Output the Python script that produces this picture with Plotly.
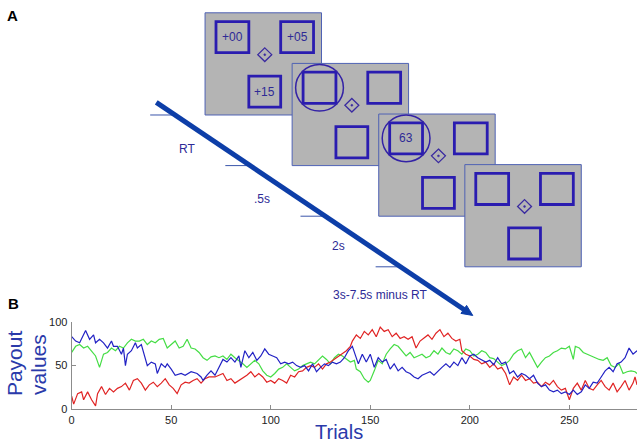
import plotly.graph_objects as go

# ---------------- Panel B data ----------------
blue_x = [0,2,4,7,9,11,12,14,16,18,20,21,23,25,26,27,28,30,32,33,35,37,38,40,42,43,45,47,48,50,52,55,57,60,63,65,66,68,70,
          72,74,76,78,80,82,84,85,87,89,91,93,95,97,99,101,103,105,107,109,111,113,115,117,119,121,123,125,127,129,131,133,135,137,139,141,
          143,144,146,148,150,152,154,156,158,160,162,164,166,168,170,172,174,176,178,180,182,184,186,188,190,192,194,196,198,200,202,204,206,208,210,212,
          214,216,218,220,222,224,226,228,230,232,234,236,238,240,242,244,246,248,250,252,254,256,258,260,262,264,266,268,270,272,274,276,278,280,282,284]
blue_y = [83,78,76,90,80,85,76,80,76,70,78,72,72,63,70,50,63,67,76,70,74,59,50,54,52,41,52,48,52,46,39,41,39,43,41,37,33,39,44,
          39,48,57,54,59,54,61,48,67,59,65,56,61,69,63,61,59,52,54,52,54,50,48,50,44,52,43,48,52,50,54,52,54,59,67,72,
          59,52,63,54,63,48,59,54,57,46,52,44,48,43,41,37,35,39,41,43,39,44,48,52,48,54,50,59,52,61,63,59,56,54,56,51,
          59,52,54,41,44,37,41,39,35,39,30,26,28,22,20,22,18,20,17,22,17,20,28,24,31,30,37,44,48,43,52,54,59,70,63,67]

green_x = [0,2,4,6,8,10,12,14,16,18,20,22,24,26,28,30,32,34,36,38,40,42,44,46,48,50,52,54,56,58,60,62,64,66,68,70,
           72,74,76,78,80,82,84,86,88,90,92,94,96,98,100,102,104,106,108,110,112,114,116,118,120,122,124,126,128,130,132,134,136,138,140,142,
           143,145,147,149,150,152,154,156,158,160,162,164,166,168,170,172,174,176,178,180,182,184,186,188,190,192,194,196,198,200,202,204,206,208,210,212,
           214,216,218,220,222,224,226,228,230,232,234,236,238,240,242,244,246,248,250,252,253,255,257,259,261,263,265,267,269,271,273,275,277,279,281,283,284]
green_y = [65,72,74,70,72,67,61,48,63,65,70,67,72,70,76,80,78,78,80,74,78,76,80,81,70,74,78,70,72,80,70,69,65,59,56,60,
           61,59,61,57,63,59,56,52,48,52,56,52,44,39,37,41,46,48,52,48,44,46,50,52,54,52,57,61,57,52,59,63,61,57,54,56,
           46,43,35,31,33,44,56,52,63,69,74,72,67,61,65,59,61,63,59,61,67,63,70,65,63,69,67,63,69,67,61,63,67,65,59,58,
           54,50,52,56,63,67,69,59,65,57,48,54,59,61,65,67,70,69,72,57,72,70,65,63,61,59,57,56,59,50,48,52,41,43,44,43,41]

red_x = [0,1,3,5,6,8,10,12,13,15,17,19,21,23,25,27,29,31,33,35,37,39,41,43,45,47,49,51,53,55,57,59,61,63,65,67,69,71,
         72,74,76,78,80,82,84,86,88,90,92,94,96,98,100,102,104,106,108,110,112,114,116,118,120,122,124,126,128,130,132,134,136,138,140,
         141,143,145,147,149,151,153,155,157,159,161,163,165,167,169,171,173,175,177,179,181,183,185,187,189,191,193,195,196,198,200,202,204,206,208,210,212,
         214,216,218,220,222,224,226,228,230,232,234,236,238,240,242,244,246,248,250,252,254,256,258,260,262,264,266,268,270,272,274,276,278,280,282,283,284]
red_y = [15,6,18,20,11,20,11,4,18,26,17,24,20,24,26,30,22,33,35,30,22,28,31,26,30,35,28,24,18,28,31,30,33,35,30,35,37,37,
         37,39,41,33,35,30,33,35,39,43,37,41,37,31,33,30,35,33,30,39,37,43,44,48,50,48,52,46,52,54,57,61,63,67,72,
         78,85,81,89,85,91,83,94,89,91,83,87,81,83,80,83,70,78,81,85,80,87,91,83,87,81,78,80,67,63,61,57,56,52,54,48,52,
         46,48,41,28,37,33,39,33,35,30,31,26,31,28,33,26,22,24,11,24,30,22,33,24,22,28,33,26,22,30,20,26,33,22,30,37,28]

x_ticks = [0, 50, 100, 150, 200, 250]
y_ticks = [0, 50, 100]

# ---------------- Panel A schematic layout (pixel space) ----------------
screen_origins = [(203, 7), (290.5, 59), (377.5, 111), (464, 163)]
screen_w, screen_h = 117, 105
square_boxes = [(11, 9, 44, 41), (76, 9, 109, 41), (44, 65, 76, 97)]
diamond_c, diamond_r = (60, 43), 7
circle_r = 24
screen1_labels = ["+00", "+05", "+15"]
screen3_label = "63"
timeline_start, timeline_end = (154, 99), (472, 318)
tick_ys = [112, 164, 216, 268]
tick_len = 25
time_labels = ["RT", ".5s", "2s", "3s-7.5s minus RT"]
time_label_pos = [(185, 147), (260, 198), (337, 247), (379, 297)]

FONT = "Liberation Sans, Arial, sans-serif"
SQ_COL = "#2a1cb0"
TXT_COL = "#2e2a96"
ARROW_COL = "#0d3ea8"

fig = go.Figure()
for xs, ys, col in [(green_x, green_y, "#45dd45"), (red_x, red_y, "#e02424"), (blue_x, blue_y, "#2222c4")]:
    fig.add_trace(go.Scatter(x=xs, y=ys, mode="lines", line=dict(color=col, width=1.2),
                             showlegend=False, hoverinfo="skip", xaxis="x", yaxis="y"))
fig.add_trace(go.Scatter(x=[0], y=[0], mode="markers", marker=dict(opacity=0),
                         showlegend=False, hoverinfo="skip", xaxis="x2", yaxis="y2"))

shapes = []
annots = []
P = dict(xref="x2", yref="y2")

for i, (ox, oy) in enumerate(screen_origins):
    shapes.append(dict(type="rect", x0=ox, y0=oy, x1=ox + screen_w, y1=oy + screen_h,
                       fillcolor="#b4b4b4", line=dict(color="#4f62b4", width=1), layer="above", **P))
    for (a, b, c, d) in square_boxes:
        shapes.append(dict(type="rect", x0=ox + a, y0=oy + b, x1=ox + c, y1=oy + d,
                           line=dict(color=SQ_COL, width=2.8), layer="above", **P))
    cx, cy = ox + diamond_c[0], oy + diamond_c[1]
    r = diamond_r
    shapes.append(dict(type="path",
                       path=f"M {cx},{cy-r} L {cx+r},{cy} L {cx},{cy+r} L {cx-r},{cy} Z",
                       line=dict(color="#3a2aa0", width=1.3), layer="above", **P))
    shapes.append(dict(type="circle", x0=cx - 1, y0=cy - 1, x1=cx + 1, y1=cy + 1,
                       fillcolor="#3a2aa0", line=dict(color="#3a2aa0", width=0.5), layer="above", **P))
    a, b, c, d = square_boxes[0]
    sx, sy = ox + (a + c) / 2, oy + (b + d) / 2
    if i in (1, 2):
        shapes.append(dict(type="circle", x0=sx - circle_r, y0=sy - circle_r, x1=sx + circle_r, y1=sy + circle_r,
                           line=dict(color="#3322a6", width=1.5), layer="above", **P))
    if i == 0:
        for (a, b, c, d), lab in zip(square_boxes, screen1_labels):
            annots.append(dict(x=ox + (a + c) / 2, y=oy + (b + d) / 2, text=lab, showarrow=False,
                               font=dict(family=FONT, size=12, color=TXT_COL), **P))
    if i == 2:
        annots.append(dict(x=sx, y=sy, text=screen3_label, showarrow=False,
                           font=dict(family=FONT, size=12, color=TXT_COL), **P))

# timeline
(x0, y0), (x1, y1) = timeline_start, timeline_end
dx, dy = x1 - x0, y1 - y0
L = (dx ** 2 + dy ** 2) ** 0.5
ux, uy = dx / L, dy / L
hl, hw = 11, 5
bx, by = x1 - hl * ux, y1 - hl * uy
shapes.append(dict(type="line", x0=x0, y0=y0, x1=bx + 2 * ux, y1=by + 2 * uy,
                   line=dict(color=ARROW_COL, width=5), layer="above", **P))
shapes.append(dict(type="path",
                   path=f"M {x1},{y1} L {bx - hw*uy},{by + hw*ux} L {bx + hw*uy},{by - hw*ux} Z",
                   fillcolor=ARROW_COL, line=dict(color=ARROW_COL, width=1), layer="above", **P))
for ty in tick_ys:
    ax_x = x0 + (ty - y0) * dx / dy
    shapes.append(dict(type="line", x0=ax_x - tick_len, y0=ty, x1=ax_x, y1=ty,
                       line=dict(color="#3a55aa", width=1), layer="below", **P))
for lab, (lx, ly) in zip(time_labels, time_label_pos):
    annots.append(dict(x=lx, y=ly, text=lab, showarrow=False,
                       font=dict(family=FONT, size=12, color=TXT_COL), **P))

# panel letters and axis titles
annots.append(dict(x=10, y=9.5, text="<b>A</b>", showarrow=False, font=dict(family=FONT, size=15, color="black"), **P))
annots.append(dict(x=10.5, y=306, text="<b>B</b>", showarrow=False, font=dict(family=FONT, size=15, color="black"), **P))
annots.append(dict(x=11, y=367, text="Payout", textangle=-90, showarrow=False,
                   font=dict(family=FONT, size=21, color="#2a3aaa"), **P))
annots.append(dict(x=35, y=368, text="values", textangle=-90, showarrow=False,
                   font=dict(family=FONT, size=21, color="#2a3aaa"), **P))
annots.append(dict(x=338, y=437.5, text="Trials", showarrow=False,
                   font=dict(family=FONT, size=20, color="#2a3aaa"), **P))

axis_common = dict(showline=True, linecolor="#8c8c8c", linewidth=1, ticks="inside", ticklen=4,
                   tickcolor="#8c8c8c", showgrid=False, zeroline=False,
                   tickfont=dict(family=FONT, size=11, color="#222222"), fixedrange=True)

fig.update_layout(
    width=640, height=447, autosize=False,
    margin=dict(l=0, r=0, t=0, b=0),
    paper_bgcolor="white", plot_bgcolor="rgba(0,0,0,0)",
    showlegend=False,
    xaxis=dict(domain=[69 / 640, 637 / 640], range=[0, 284], tickvals=x_ticks, anchor="y",
               ticklabelstandoff=0, **axis_common),
    yaxis=dict(domain=[1 - 414.5 / 447, 1 - 324.5 / 447], range=[0, 100], tickvals=y_ticks, anchor="x",
               ticklabelstandoff=1, **axis_common),
    xaxis2=dict(domain=[0, 1], range=[0, 640], visible=False, anchor="y2", fixedrange=True),
    yaxis2=dict(domain=[0, 1], range=[447, 0], visible=False, anchor="x2", fixedrange=True),
    shapes=shapes, annotations=annots,
)

fig.write_html("out.html", config={"displayModeBar": False},
               post_script="document.body.style.margin='0';document.body.style.overflow='hidden';")
